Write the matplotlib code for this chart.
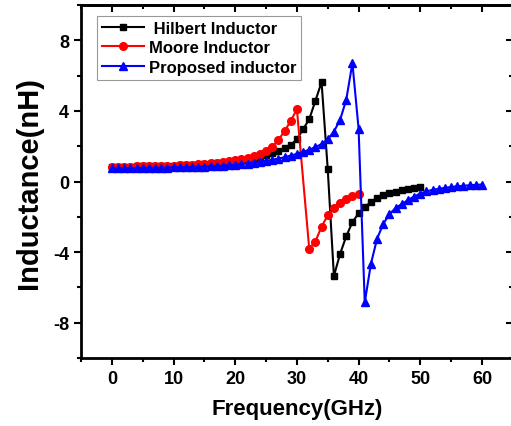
import matplotlib.pyplot as plt
from matplotlib.ticker import MultipleLocator

plt.rcParams['font.family'] = ['Liberation Sans', 'DejaVu Sans']
plt.rcParams['font.weight'] = 'bold'
plt.rcParams['axes.unicode_minus'] = False

# frequency (GHz) and inductance (nH)
freq_hilbert = list(range(0, 51))
ind_hilbert = [0.85, 0.85, 0.85, 0.85, 0.86, 0.86, 0.87, 0.87, 0.88, 0.89,
               0.90, 0.91, 0.92, 0.94, 0.96, 0.98, 1.00, 1.03, 1.06, 1.10,
               1.15, 1.20, 1.25, 1.32, 1.40, 1.48, 1.60, 1.72, 1.88, 2.07,
               2.39, 2.96, 3.53, 4.57, 5.63, 0.70, -5.35, -4.10, -3.10, -2.30,
               -1.80, -1.45, -1.15, -0.92, -0.77, -0.66, -0.57, -0.49, -0.42, -0.36,
               -0.30]

# no sample visible at 31 GHz for this one
freq_moore = list(range(0, 31)) + list(range(32, 41))
ind_moore = [0.85, 0.85, 0.85, 0.85, 0.86, 0.86, 0.87, 0.87, 0.88, 0.89,
             0.90, 0.92, 0.93, 0.95, 0.97, 1.00, 1.03, 1.07, 1.11, 1.16,
             1.22, 1.28, 1.35, 1.43, 1.55, 1.72, 1.97, 2.35, 2.86, 3.43,
             4.10, -3.80, -3.40, -2.55, -1.92, -1.50, -1.20, -0.97, -0.81,
             -0.68]

freq_proposed = list(range(0, 61))
ind_proposed = [0.75, 0.75, 0.75, 0.76, 0.76, 0.77, 0.77, 0.78, 0.78, 0.79,
                0.80, 0.81, 0.82, 0.83, 0.84, 0.85, 0.87, 0.88, 0.90, 0.93,
                0.95, 0.98, 1.02, 1.07, 1.12, 1.17, 1.23, 1.30, 1.38, 1.47,
                1.57, 1.68, 1.80, 1.95, 2.12, 2.39, 2.83, 3.49, 4.63, 6.71,
                3.00, -6.85, -4.66, -3.24, -2.40, -1.85, -1.50, -1.28, -1.05, -0.85,
                -0.68, -0.56, -0.47, -0.41, -0.36, -0.31, -0.27, -0.24, -0.21, -0.19,
                -0.17]

fig = plt.figure(figsize=(5.11, 4.27), dpi=100)
ax = fig.add_axes([0.1585, 0.159, 0.845, 0.827])

ax.plot(freq_hilbert, ind_hilbert, color='black', marker='s', markersize=4.5,
        linewidth=1.5, label=' Hilbert Inductor')
ax.plot(freq_moore, ind_moore, color='red', marker='o', markersize=5.5,
        linewidth=1.5, label='Moore Inductor')
ax.plot(freq_proposed, ind_proposed, color='blue', marker='^', markersize=5.5,
        linewidth=1.5, label='Proposed inductor')

ax.set_xlim(-5, 65)
ax.set_ylim(-10, 10)
ax.xaxis.set_major_locator(MultipleLocator(10))
ax.xaxis.set_minor_locator(MultipleLocator(5))
ax.yaxis.set_major_locator(MultipleLocator(4))
ax.yaxis.set_minor_locator(MultipleLocator(2))

ax.tick_params(which='both', direction='out', width=1.5, labelsize=13)
ax.tick_params(which='major', length=5)
ax.tick_params(which='minor', length=3)
for sp in ax.spines.values():
    sp.set_linewidth(2)

# top and right axes: inward ticks, no labels
top = ax.secondary_xaxis('top')
top.xaxis.set_major_locator(MultipleLocator(10))
top.xaxis.set_minor_locator(MultipleLocator(5))
top.tick_params(which='both', direction='in', width=1.5, labeltop=False)
top.tick_params(which='major', length=5)
top.tick_params(which='minor', length=3)
right = ax.secondary_yaxis('right')
right.yaxis.set_major_locator(MultipleLocator(4))
right.yaxis.set_minor_locator(MultipleLocator(2))
right.tick_params(which='both', direction='in', width=1.5, labelright=False)
right.tick_params(which='major', length=5)
right.tick_params(which='minor', length=3)
top.spines['top'].set_linewidth(2)
right.spines['right'].set_linewidth(2)

ax.set_xlabel('Frequency(GHz)', fontsize=16, fontweight='bold', labelpad=8)
ax.set_ylabel('Inductance(nH)', fontsize=21, fontweight='bold', labelpad=7)

leg = ax.legend(loc='upper left', bbox_to_anchor=(0.037, 0.97), borderaxespad=0,
                fontsize=12, frameon=True, fancybox=False, edgecolor='gray',
                handlelength=2.5, borderpad=0.3, labelspacing=0.28,
                handletextpad=0.3)
leg.get_frame().set_linewidth(0.8)
for t in leg.get_texts():
    t.set_fontweight('bold')

fig.savefig('out.png', dpi=100)
